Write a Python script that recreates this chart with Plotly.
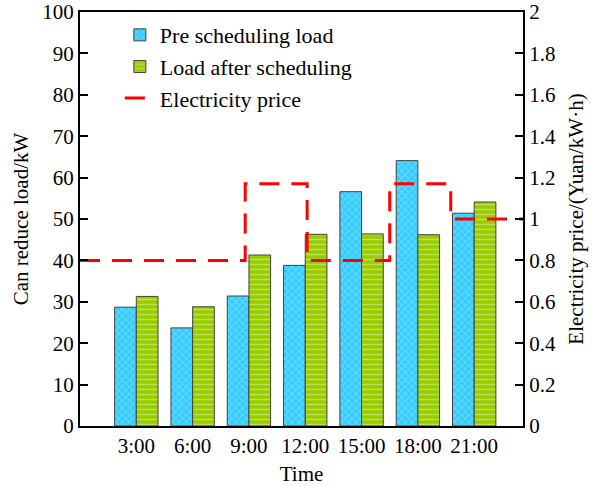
import plotly.graph_objects as go

hours = [3, 6, 9, 12, 15, 18, 21]
tick_labels = ["3:00", "6:00", "9:00", "12:00", "15:00", "18:00", "21:00"]
pre_load = [28.7, 23.7, 31.4, 38.8, 56.6, 64.1, 51.4]
after_load = [31.3, 28.8, 41.3, 46.3, 46.4, 46.2, 54.1]

price_x = [0, 8.8, 8.8, 12.1, 12.1, 16.5, 16.5, 19.75, 19.75, 23.6]
price_y = [0.8, 0.8, 1.17, 1.17, 0.8, 0.8, 1.17, 1.17, 1.0, 1.0]

FONT = "Liberation Serif, Times New Roman, serif"

fig = go.Figure()
fig.add_trace(go.Bar(
    x=hours, y=pre_load, name="Pre scheduling load",
    marker=dict(color="#33CCFF", line=dict(color="#404040", width=1),
                pattern=dict(shape="x", fgcolor="#a0eaff", size=5, solidity=0.35)),
))
fig.add_trace(go.Bar(
    x=hours, y=after_load, name="Load after scheduling",
    marker=dict(color="#99CC00", line=dict(color="#404040", width=1),
                pattern=dict(shape="-", fgcolor="#e2f5a0", size=5, solidity=0.3)),
))
fig.add_trace(go.Scatter(
    x=price_x, y=price_y, name="Electricity price", mode="lines", yaxis="y2",
    line=dict(color="#FF0000", width=3, dash="20px,12px"),
))

fig.update_layout(
    width=596, height=486,
    margin=dict(l=80, r=73, t=12, b=60),
    paper_bgcolor="white", plot_bgcolor="white",
    font=dict(family=FONT, size=21, color="black"),
    barmode="group", bargap=0.23, bargroupgap=0,
    showlegend=True,
    legend=dict(x=0.09, y=0.995, xanchor="left", yanchor="top",
                bgcolor="rgba(0,0,0,0)", font=dict(family=FONT, size=22),
                tracegroupgap=0),
    xaxis=dict(
        range=[0, 23.6], tickvals=hours, ticktext=tick_labels,
        showline=True, linecolor="black", linewidth=2, mirror=True,
        ticks="", showgrid=False, zeroline=False, automargin=False,
        ticklabeloverflow="allow",
        title=dict(text="Time", standoff=9, font=dict(size=21)),
    ),
    yaxis=dict(
        range=[0, 100], dtick=10, showline=True, linecolor="black", linewidth=2,
        ticks="inside", ticklen=8, tickwidth=2, tickcolor="black",
        showgrid=False, zeroline=False, automargin=False,
        ticklabeloverflow="allow",
        title=dict(text="Can reduce load/kW", standoff=8, font=dict(size=21)),
    ),
    yaxis2=dict(
        range=[0, 2], dtick=0.2, overlaying="y", side="right",
        showline=True, linecolor="black", linewidth=2,
        ticks="inside", ticklen=8, tickwidth=2, tickcolor="black",
        showgrid=False, zeroline=False, automargin=False,
        ticklabeloverflow="allow",
        tickvals=[0, 0.2, 0.4, 0.6, 0.8, 1, 1.2, 1.4, 1.6, 1.8, 2],
        ticktext=["0", "0.2", "0.4", "0.6", "0.8", "1", "1.2", "1.4", "1.6", "1.8", "2"],
        title=dict(text="Electricity price/(Yuan/kW·h)", standoff=13, font=dict(size=21)),
    ),
)

fig.write_html("out.html", config={"displayModeBar": False},
               post_script="document.body.style.margin='0';")
